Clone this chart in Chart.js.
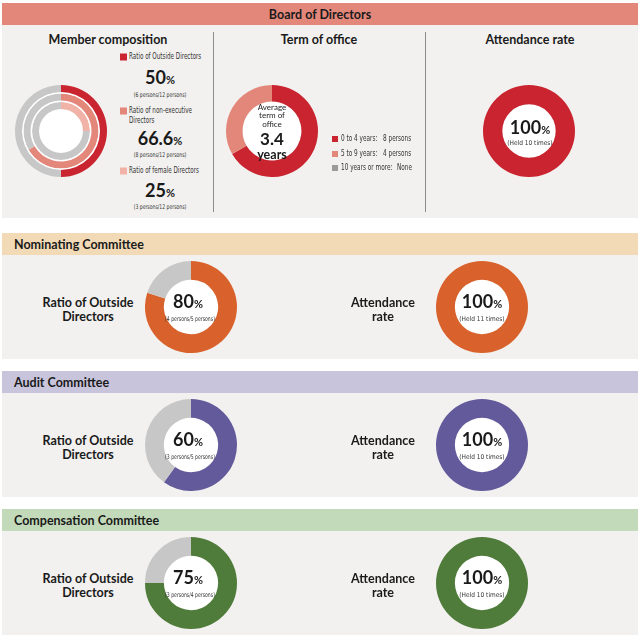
<!DOCTYPE html>
<html lang="en">
<head>
<meta charset="UTF-8">
<title>Board of Directors</title>
<script src="https://cdn.jsdelivr.net/npm/chart.js"></script>
<style>
  html, body { margin: 0; padding: 0; background: #ffffff; }
  #page { position: relative; width: 640px; height: 639px; overflow: hidden; font-family: Lato, "Open Sans", sans-serif; color: #1a1a1a; }
  .bar { position: absolute; left: 2px; width: 636px; height: 22px; }
  .panel { position: absolute; left: 2px; width: 636px; background: #f2f1ef; }
  .rule { position: absolute; width: 1px; background: #8c8c8c; }
  .t { position: absolute; transform: translate(-50%, -50%); white-space: nowrap; text-align: center; line-height: 1; }
  .tl { position: absolute; transform: translateY(-50%); white-space: nowrap; line-height: 1; }
  .h { font-weight: 700; font-size: 12.5px; }
  .big { font-weight: 700; font-size: 18px; }
  .big small { font-size: 11px; font-weight: 700; }
  .tiny { font-family: "Liberation Sans Narrow", "DejaVu Sans Condensed", sans-serif; font-size: 6.5px; color: #333; }
  .nar { transform: translate(-50%, -50%) scaleX(0.78); }
  .leg { font-family: "Liberation Sans Narrow", "DejaVu Sans Condensed", sans-serif; font-size: 8px; color: #333;
         transform-origin: left center; transform: translateY(-50%) scaleX(0.8); }
  .mleg { position: absolute; white-space: nowrap; line-height: 10px; font-family: "Liberation Sans Narrow", "DejaVu Sans Condensed", sans-serif;
          font-size: 8px; color: #333; transform-origin: left top; transform: scaleX(0.78); }
  .avg { font-size: 8px; color: #222; }
  .yr1 { font-size: 17px; font-weight: 700; }
  .yr2 { font-size: 12.5px; font-weight: 700; }
  .sq { position: absolute; width: 7px; height: 7px; transform: translateY(-50%); }
  canvas { position: absolute; }
</style>
</head>
<body>
<div id="page"></div>

<script>
    // Board of Directors
    const ringLabels = ['Ratio of Outside Directors', 'Ratio of non-executive Directors', 'Ratio of female Directors'];
    const ringPersons = [6, 8, 3];
    const boardTotal = 12;

    const termLabels = ['0 to 4 years:', '5 to 9 years:', '10 years or more:'];
    const termPersons = [8, 4, 0];
    const averageTerm = 3.4;

    const boardAttendance = 100;
    const boardMeetings = 10;

    // Committees
    const committeeNames = ['Nominating Committee', 'Audit Committee', 'Compensation Committee'];
    const committeeOutside = [4, 3, 3];
    const committeeMembers = [5, 5, 4];
    const committeeAttendance = [100, 100, 100];
    const committeeMeetings = [11, 10, 10];

    const RED = '#c9242f', SALMON = '#e4877b', PINK = '#f1b3a7', GREY = '#c7c7c7', DARKGREY = '#9b9b9b';
    const committeeColors = ['#d9622c', '#635a9c', '#4f7c3b'];
    const committeeBars = ['#f2dab6', '#c8c4dc', '#c2dab9'];

    const page = document.getElementById('page');

    function el(tag, cls, css, html) {
        const e = document.createElement(tag);
        if (cls) e.className = cls;
        Object.assign(e.style, css || {});
        if (html !== undefined) e.innerHTML = html;
        page.appendChild(e);
        return e;
    }
    function text(x, y, cls, html) { return el('div', 't ' + cls, { left: x + 'px', top: y + 'px' }, html); }
    function textL(x, y, cls, html) { return el('div', 'tl ' + cls, { left: x + 'px', top: y + 'px' }, html); }
    function pct(v) { return Math.floor(v * 10) / 10; }

    // paints the cutout white
    const whiteHole = {
        id: 'whiteHole',
        beforeDatasetsDraw(chart) {
            const n = chart.data.datasets.length;
            const arc = chart.getDatasetMeta(n - 1).data[0];
            if (!arc) return;
            const ctx = chart.ctx;
            ctx.save();
            ctx.beginPath();
            ctx.arc(arc.x, arc.y, arc.innerRadius, 0, Math.PI * 2);
            ctx.fillStyle = '#ffffff';
            ctx.fill();
            ctx.restore();
        }
    };

    function donut(cx, cy, r, datasets, cutout) {
        const c = el('canvas', '', { left: (cx - r) + 'px', top: (cy - r) + 'px' });
        c.width = r * 2; c.height = r * 2;
        new Chart(c, {
            type: 'doughnut',
            data: { datasets: datasets },
            options: {
                responsive: false,
                animation: false,
                events: [],
                cutout: cutout,
                layout: { padding: 0 },
                plugins: { legend: { display: false }, tooltip: { enabled: false } }
            },
            plugins: [whiteHole]
        });
    }

    // ---- Board of Directors ----
    el('div', 'bar', { top: '3px', background: SALMON });
    text(320, 15, 'h', 'Board of Directors');
    el('div', 'panel', { top: '25px', height: '193px' });
    el('div', 'rule', { left: '213px', top: '32px', height: '180px' });
    el('div', 'rule', { left: '425px', top: '32px', height: '180px' });

    text(108, 40, 'h', 'Member composition');
    text(319, 40, 'h', 'Term of office');
    text(530, 40, 'h', 'Attendance rate');

    // concentric rings
    const ringColors = [RED, SALMON, PINK];
    const ringSets = [];
    ringPersons.forEach((p, i) => {
        if (i > 0) ringSets.push({ data: [1], backgroundColor: ['#ffffff'], borderWidth: 0, weight: 1.5 });
        ringSets.push({ data: [p, boardTotal - p], backgroundColor: [ringColors[i], GREY], borderWidth: 0, weight: 7 });
    });
    donut(61, 131, 46, ringSets, '47.8%');

    const legY = [57, 111, 171], bigY = [77, 138, 190], subY = [95, 155, 207];
    ringLabels.forEach((lab, i) => {
        el('div', 'sq', { left: '120px', top: legY[i] + 'px', background: ringColors[i] });
        const html = i === 1 ? 'Ratio of non-executive<br>Directors' : lab;
        el('div', 'mleg', { left: '129px', top: (legY[i] - 5) + 'px' }, html);
        text(160, bigY[i], 'big', pct(ringPersons[i] / boardTotal * 100) + '<small>%</small>');
        text(160, subY[i], 'tiny nar', '(' + ringPersons[i] + ' persons/' + boardTotal + ' persons)');
    });

    // term of office
    donut(272, 131, 46, [{ data: termPersons, backgroundColor: [RED, SALMON, DARKGREY], borderWidth: 0 }], '64%');
    ['Average', 'term of', 'office'].forEach((w, k) => text(272, 106.5 + k * 8.5, 'avg', w));
    text(272, 137.5, 'yr1', averageTerm);
    text(272, 154.5, 'yr2', 'years');

    const termColors = [RED, SALMON, DARKGREY];
    termLabels.forEach((lab, i) => {
        const y = 139 + i * 14.5;
        el('div', 'sq', { left: '332px', top: y + 'px', width: '6px', height: '6px', background: termColors[i] });
        textL(341, y, 'leg', lab);
        if (termPersons[i] > 0) textL(383, y, 'leg', termPersons[i] + ' persons');
        else textL(397, y, 'leg', 'None');
    });

    // attendance
    donut(529, 131, 46, [{ data: [boardAttendance, 100 - boardAttendance], backgroundColor: [RED, GREY], borderWidth: 0 }], '58%');
    text(530, 127, 'big', boardAttendance + '<small>%</small>');
    text(530, 143, 'tiny', '(Held ' + boardMeetings + ' times)');

    // ---- Committees ----
    committeeNames.forEach((name, i) => {
        const top = 233 + i * 138;
        const cy = top + 73.5;
        el('div', 'bar', { top: top + 'px', background: committeeBars[i] });
        textL(14, top + 12, 'h', name);
        el('div', 'panel', { top: (top + 22) + 'px', height: '104px' });

        text(88, cy - 3.5, 'h', 'Ratio of Outside');
        text(88, cy + 10.5, 'h', 'Directors');
        donut(191, cy, 46, [{ data: [committeeOutside[i], committeeMembers[i] - committeeOutside[i]], backgroundColor: [committeeColors[i], GREY], borderWidth: 0 }], '59%');
        text(188, cy - 5.5, 'big', pct(committeeOutside[i] / committeeMembers[i] * 100) + '<small>%</small>');
        text(190, cy + 12.5, 'tiny nar', '(' + committeeOutside[i] + ' persons/' + committeeMembers[i] + ' persons)');

        text(383, cy - 3.5, 'h', 'Attendance');
        text(383, cy + 10.5, 'h', 'rate');
        donut(482, cy, 46, [{ data: [committeeAttendance[i], 100 - committeeAttendance[i]], backgroundColor: [committeeColors[i], GREY], borderWidth: 0 }], '59%');
        text(482, cy - 5.5, 'big', committeeAttendance[i] + '<small>%</small>');
        text(482, cy + 12.5, 'tiny', '(Held ' + committeeMeetings[i] + ' times)');
    });
</script>
</body>
</html>
